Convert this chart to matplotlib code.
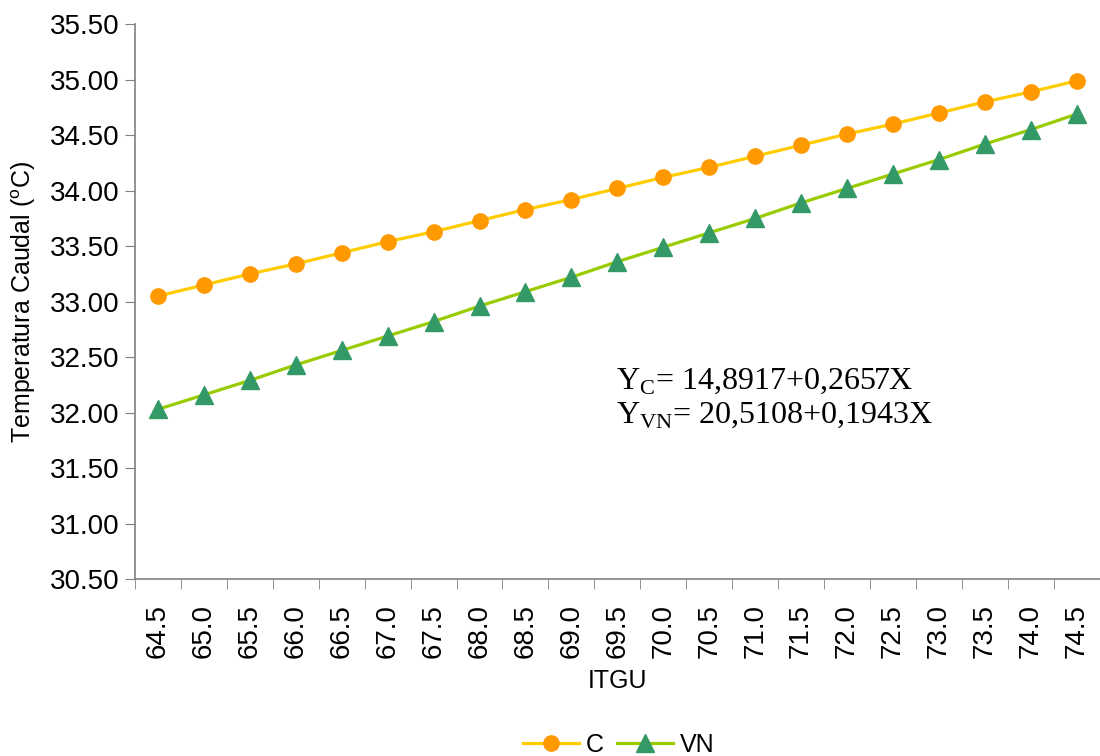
import matplotlib.pyplot as plt
import numpy as np

itgu = ['64.5', '65.0', '65.5', '66.0', '66.5', '67.0', '67.5', '68.0', '68.5', '69.0', '69.5',
        '70.0', '70.5', '71.0', '71.5', '72.0', '72.5', '73.0', '73.5', '74.0', '74.5']
temp_c = [33.05, 33.15, 33.25, 33.34, 33.44, 33.54, 33.63, 33.73, 33.83, 33.92, 34.02,
          34.12, 34.21, 34.31, 34.41, 34.51, 34.60, 34.70, 34.80, 34.89, 34.99]
temp_vn = [32.03, 32.16, 32.29, 32.43, 32.56, 32.69, 32.82, 32.96, 33.09, 33.22, 33.36,
           33.49, 33.62, 33.75, 33.89, 34.02, 34.15, 34.28, 34.42, 34.55, 34.69]
y_ticks = [30.50, 31.00, 31.50, 32.00, 32.50, 33.00, 33.50, 34.00, 34.50, 35.00, 35.50]

plt.rcParams['font.family'] = ['Liberation Sans', 'DejaVu Sans']
plt.rcParams['mathtext.fontset'] = 'custom'
plt.rcParams['mathtext.rm'] = 'Liberation Serif'
plt.rcParams['mathtext.sf'] = 'Liberation Sans'

fig = plt.figure(figsize=(11, 7.56), dpi=100)
ax = fig.add_axes([0.1227, 0.234, 0.877, 0.734])

x = np.arange(len(itgu))
ax.plot(x, temp_c, color='#FFCC00', lw=2.3, marker='o', ms=11,
        mfc='#FF9900', mec='#FF9900', label='C')
ax.plot(x, temp_vn, color='#99CC00', lw=2.3, marker='^', ms=13,
        mfc='#339966', mec='#339966', label='VN')

ax.set_xlim(-0.5, len(itgu) - 0.5)
ax.set_ylim(30.5, 35.5)
ax.set_yticks(y_ticks)
ax.set_yticklabels([f'{v:.2f}' for v in y_ticks], fontsize=20)
ax.set_xticks(x)
ax.set_xticklabels(itgu, rotation=90, fontsize=20)
ax.set_xticks(np.arange(-0.5, len(itgu)), minor=True)
ax.tick_params(axis='x', which='major', length=0, pad=18)
ax.tick_params(axis='x', which='minor', length=7, color='#808080', direction='out')
ax.tick_params(axis='y', length=7, color='#808080', direction='out', pad=4)

for s in ['top', 'right']:
    ax.spines[s].set_visible(False)
for s in ['left', 'bottom']:
    ax.spines[s].set_color('#808080')
    ax.spines[s].set_linewidth(1.2)

ax.set_ylabel(r'Temperatura Caudal ($^{\mathsf{o}}$C)', fontsize=18)
ax.yaxis.set_label_coords(-0.1, 0.5)
ax.set_xlabel('ITGU', fontsize=18, labelpad=8)

ax.text(9.97, 32.22, r'Y$_{\mathrm{C}}$= 14,8917+0,2657X', fontsize=23,
        family='Liberation Serif', va='baseline')
ax.text(9.97, 31.91, r'Y$_{\mathrm{VN}}$= 20,5108+0,1943X', fontsize=23,
        family='Liberation Serif', va='baseline')

fig.legend(loc='center', bbox_to_anchor=(0.5623, 0.0146), ncol=2, frameon=False,
           fontsize=18, handlelength=2.24, columnspacing=0.52, handletextpad=0.28)

fig.savefig('out.png', dpi=100)
